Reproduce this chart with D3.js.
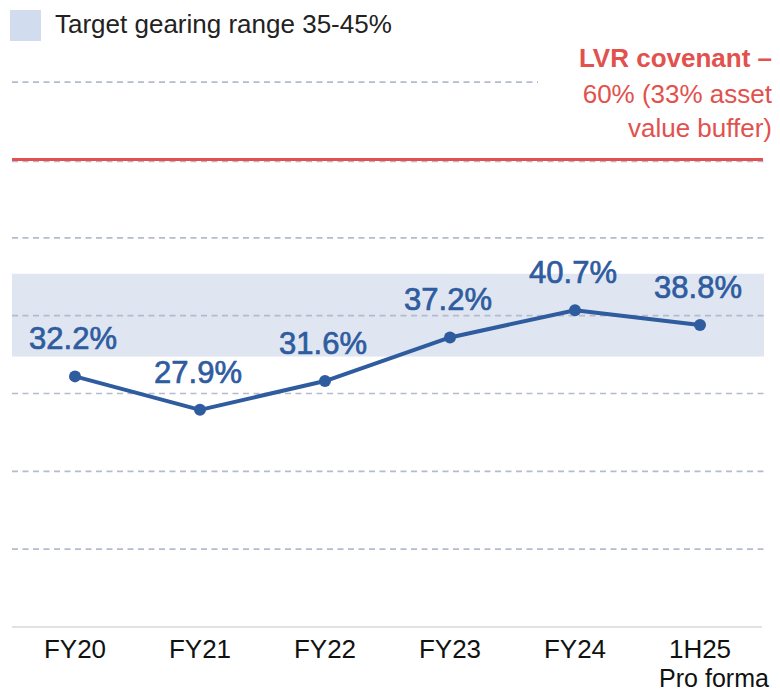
<!DOCTYPE html>
<html><head><meta charset="utf-8">
<script src="https://cdn.jsdelivr.net/npm/d3@7"></script>
<style>html,body{margin:0;padding:0;background:#fff;}svg{display:block;font-family:"Liberation Sans",Arial,sans-serif;}</style>
</head><body>
<svg id="c" width="780" height="693"></svg>
<script>
const categories = ["FY20","FY21","FY22","FY23","FY24","1H25"];
const gearing = [32.2, 27.9, 31.6, 37.2, 40.7, 38.8];
const valueLabels = ["32.2%","27.9%","31.6%","37.2%","40.7%","38.8%"];
const targetRange = [35, 45];
const covenant = 60;
const gridValues = [10, 20, 30, 40, 50, 60, 70];
const legendText = "Target gearing range 35-45%";
const covenantLines = ["LVR covenant \u2013", "60% (33% asset", "value buffer)"];
const subLabel = {"1H25": "Pro forma"};

const svg = d3.select("#c");
const y = d3.scaleLinear().domain([0, 60]).range([627, 160]);
const x = d3.scalePoint().domain(categories).range([75, 700]);
const left = 12, right = 764;
const blue = "#2f5c9f", red = "#e2514d";

// target band
svg.append("rect")
  .attr("x", left).attr("width", right - left)
  .attr("y", y(targetRange[1]) - 3)
  .attr("height", y(targetRange[0]) - y(targetRange[1]) + 5)
  .attr("fill", "#dfe6f1");

// gridlines
svg.append("g").selectAll("line").data(gridValues).join("line")
  .attr("x1", left)
  .attr("x2", d => d === 70 ? 538 : right)
  .attr("y1", d => y(d) + (d === 60 ? 1.5 : 0)).attr("y2", d => y(d) + (d === 60 ? 1.5 : 0))
  .attr("stroke", "#b3bccd").attr("stroke-width", 1.6)
  .attr("stroke-dasharray", "6,4.5");

// baseline
svg.append("line").attr("x1", left).attr("x2", 762).attr("y1", y(0)).attr("y2", y(0))
  .attr("stroke", "#d8d8d8").attr("stroke-width", 1.6);

// covenant line
svg.append("line").attr("x1", left).attr("x2", 763).attr("y1", y(covenant) - 0.5).attr("y2", y(covenant) - 0.5)
  .attr("stroke", red).attr("stroke-width", 3);

// series line
const line = d3.line().x((d, i) => x(categories[i])).y(d => y(d));
svg.append("path").datum(gearing).attr("d", line)
  .attr("fill", "none").attr("stroke", blue).attr("stroke-width", 4).attr("stroke-linejoin", "round");
svg.append("g").selectAll("circle").data(gearing).join("circle")
  .attr("cx", (d, i) => x(categories[i])).attr("cy", d => y(d)).attr("r", 6)
  .attr("fill", blue);

// value labels
svg.append("g").selectAll("text").data(gearing).join("text")
  .attr("x", (d, i) => x(categories[i]) - 2).attr("y", d => y(d) - 27)
  .attr("text-anchor", "middle").attr("font-size", 31)
  .attr("fill", blue).attr("stroke", blue).attr("stroke-width", 0.7)
  .text((d, i) => valueLabels[i]);

// x axis labels
svg.append("g").selectAll("text").data(categories).join("text")
  .attr("x", d => x(d)).attr("y", 658).attr("text-anchor", "middle")
  .attr("font-size", 26).attr("fill", "#111").text(d => d);
svg.append("g").selectAll("text").data(categories.filter(c => subLabel[c])).join("text")
  .attr("x", d => x(d) + 14).attr("y", 687).attr("text-anchor", "middle")
  .attr("font-size", 25).attr("fill", "#111").text(d => subLabel[d]);

// legend
svg.append("rect").attr("x", 10).attr("y", 10).attr("width", 31).attr("height", 31).attr("fill", "#d1dcef");
svg.append("text").attr("x", 55).attr("y", 33).attr("font-size", 26).attr("fill", "#222").text(legendText);

// covenant annotation
svg.append("g").selectAll("text").data(covenantLines).join("text")
  .attr("x", 772).attr("y", (d, i) => [67, 103, 137][i]).attr("text-anchor", "end")
  .attr("font-size", 26).attr("font-weight", (d, i) => i === 0 ? "bold" : "normal")
  .attr("fill", red).text(d => d);
</script>
</body></html>
